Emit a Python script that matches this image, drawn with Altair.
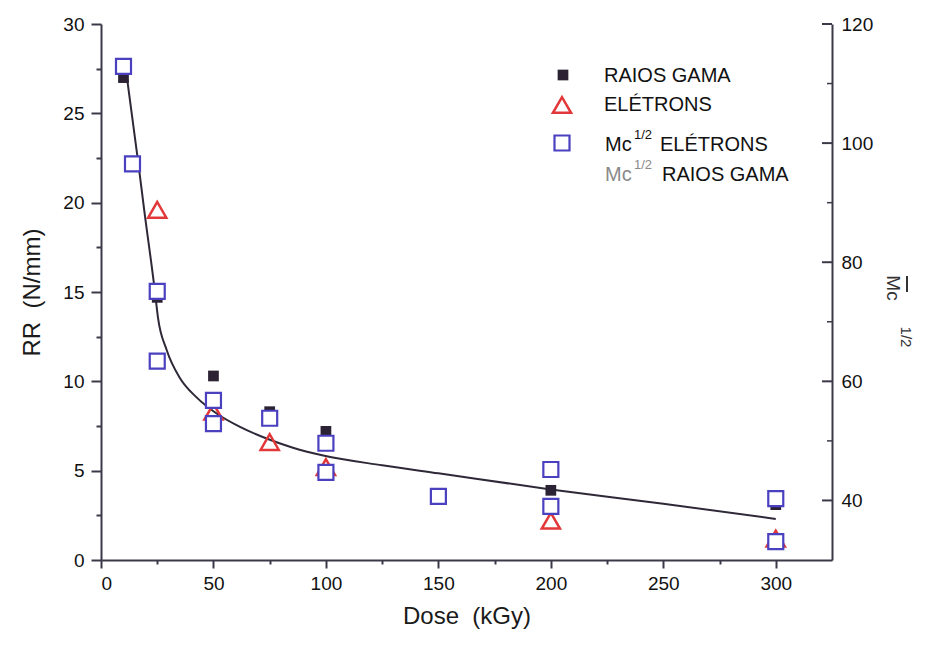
import altair as alt
import pandas as pd

# ---------------- data ----------------
dose_gama = [10, 25, 50, 75, 100, 200, 300]
rr_gama = [27.0, 14.7, 10.3, 8.3, 7.2, 3.9, 3.1]

dose_elet = [25, 50, 75, 100, 200, 300]
rr_elet = [19.6, 8.3, 6.6, 5.2, 2.2, 1.2]

dose_mc = [10, 14, 25, 25, 50, 50, 75, 100, 100, 150, 200, 200, 300, 300]
mc_elet = [112.9, 96.5, 75.1, 63.4, 56.8, 52.9, 53.8, 49.6, 44.7, 40.7, 45.2, 39.0, 40.3, 33.1]

fit_dose = [10.7, 16.6, 19.2, 23.9, 25.3, 29.2, 35, 42.5, 51.4, 61.8, 73.6, 85, 98.8, 125, 150, 200, 250, 300]
fit_rr = [27.8, 22.2, 19.6, 15.1, 13.6, 11.75, 10.2, 9.1, 8.2, 7.45, 6.8, 6.3, 5.85, 5.3, 4.85, 3.95, 3.15, 2.3]

x_ticks = [0, 25, 50, 75, 100, 125, 150, 175, 200, 225, 250, 275, 300]
left_ticks = [0, 2.5, 5, 7.5, 10, 12.5, 15, 17.5, 20, 22.5, 25, 27.5, 30]
right_labels = [40, 60, 80, 100, 120]
right_minor = [50, 70, 90, 110]

legend_labels = ["RAIOS GAMA", "ELÉTRONS", "ELÉTRONS", "RAIOS GAMA"]
mc_prefix = "Mc"
mc_sup = "1/2"
x_title = "Dose\u00a0\u00a0(kGy)"
y_title = "RR\u00a0\u00a0(N/mm)"

# ---------------- styles ----------------
FONT = "Liberation Sans"
AXC = "#3d3848"
BLACK = "#2b2233"
RED = "#e2383a"
BLUE = "#4a40c0"
W, H = 731, 536

df_gama = pd.DataFrame({"dose": dose_gama, "rr": rr_gama})
df_elet = pd.DataFrame({"dose": dose_elet, "rr": rr_elet})
df_mc = pd.DataFrame({"dose": dose_mc, "mc": mc_elet})
df_fit = pd.DataFrame({"dose": fit_dose, "rr": fit_rr})
df_rmaj = pd.DataFrame({"mc": right_labels})
df_rmin = pd.DataFrame({"mc": right_minor})

xscale = alt.Scale(domain=[0, 325], nice=False, zero=False)
xaxis = alt.Axis(
    values=x_ticks,
    labelExpr="datum.value % 50 === 0 ? datum.label : ''",
    labelOverlap=False,
    grid=False,
    tickSize={"condition": {"test": "datum.value % 50 === 0", "value": 8}, "value": 4},
    labelPadding=6,
    title=x_title,
    titlePadding=11,
)
X = alt.X("dose:Q", scale=xscale, axis=xaxis)

yscale_l = alt.Scale(domain=[0, 30], nice=False, zero=False)
yaxis_l = alt.Axis(
    values=left_ticks,
    labelExpr="datum.value % 5 === 0 ? datum.label : ''",
    labelOverlap=False,
    grid=False,
    tickSize={"condition": {"test": "datum.value % 5 === 0", "value": 10}, "value": 5},
    labelPadding=7,
    title=y_title,
    titlePadding=18,
)
YL = alt.Y("rr:Q", scale=yscale_l, axis=yaxis_l)

yscale_r = alt.Scale(domain=[30, 120], nice=False, zero=False)
yaxis_r = alt.Axis(
    orient="right",
    values=right_labels,
    ticks=False,
    grid=False,
    labelPadding=9,
    title=None,
)
YR = alt.Y("mc:Q", scale=yscale_r, axis=yaxis_r)

fit_line = alt.Chart(df_fit).mark_line(color="#2e2838", strokeWidth=2, interpolate="monotone").encode(x=X, y=YL)
gama_pts = alt.Chart(df_gama).mark_point(shape="square", filled=True, size=115, color=BLACK, opacity=1).encode(x=X, y=YL)
elet_pts = alt.Chart(df_elet).mark_point(shape="triangle-up", filled=False, size=330, color=RED, strokeWidth=2.5, opacity=1).encode(x=X, y=YL)

left = alt.layer(fit_line, gama_pts, elet_pts)

mc_pts = alt.Chart(df_mc).mark_point(shape="square", filled=True, size=225, fill="white", stroke=BLUE, strokeWidth=2.2, opacity=1).encode(x=X, y=YR)
rmaj = alt.Chart(df_rmaj).mark_rule(color=AXC, strokeWidth=2).encode(x=alt.value(W - 10), x2=alt.value(W), y=YR)
rmin = alt.Chart(df_rmin).mark_rule(color=AXC, strokeWidth=1.5).encode(x=alt.value(W - 5), x2=alt.value(W), y=YR)

right = alt.layer(mc_pts, rmaj, rmin)


def txt(s, x, y, size=20, color="#111111", angle=0, align="left"):
    return alt.Chart(pd.DataFrame({"t": [s]})).mark_text(
        align=align, baseline="middle", fontSize=size, font=FONT, color=color, angle=angle
    ).encode(x=alt.value(x), y=alt.value(y), text="t:N")


def sym(shape, x, y, size, **kw):
    return alt.Chart(pd.DataFrame({"a": [0]})).mark_point(shape=shape, size=size, opacity=1, **kw).encode(
        x=alt.value(x), y=alt.value(y)
    )


legend = [
    sym("square", 462, 51, 115, filled=True, color=BLACK),
    txt(legend_labels[0], 503, 52),
    sym("triangle-up", 461, 81, 330, filled=False, color=RED, strokeWidth=2.5),
    txt(legend_labels[1], 503, 81),
    sym("square", 461, 119, 225, filled=True, fill="white", stroke=BLUE, strokeWidth=2.2),
    txt(mc_prefix, 504, 121),
    txt(mc_sup, 533, 111, size=13),
    txt(legend_labels[2], 559, 121),
    txt(mc_prefix, 504, 151, color="#8a8a8a"),
    txt(mc_sup, 533, 141, size=13, color="#8a8a8a"),
    txt(legend_labels[3], 561, 151),
]

rtitle = [
    txt(mc_prefix, 792, 264, size=19, color="#333333", angle=90, align="center"),
    txt(mc_sup, 805, 313, size=15, color="#333333", angle=90, align="center"),
    alt.Chart(pd.DataFrame({"a": [0]})).mark_rule(color="#333333", strokeWidth=2).encode(
        x=alt.value(806), y=alt.value(252), y2=alt.value(268)
    ),
]

chart = (
    alt.layer(left, right, *legend, *rtitle)
    .resolve_scale(y="independent")
    .properties(
        width=W,
        height=H,
        autosize=alt.AutoSizeParams(type="none"),
        padding={"left": 93, "top": 16, "right": 86, "bottom": 70},
        background="white",
    )
    .configure_view(strokeWidth=0)
    .configure_axis(
        domainColor=AXC,
        domainWidth=2,
        tickColor=AXC,
        tickWidth=2,
        labelFont=FONT,
        labelFontSize=19,
        labelColor="#111111",
        titleFont=FONT,
        titleFontSize=24,
        titleFontWeight="normal",
        titleColor="#1a1a1a",
    )
)

chart.save("out.html", embed_options={"renderer": "svg", "actions": False})
